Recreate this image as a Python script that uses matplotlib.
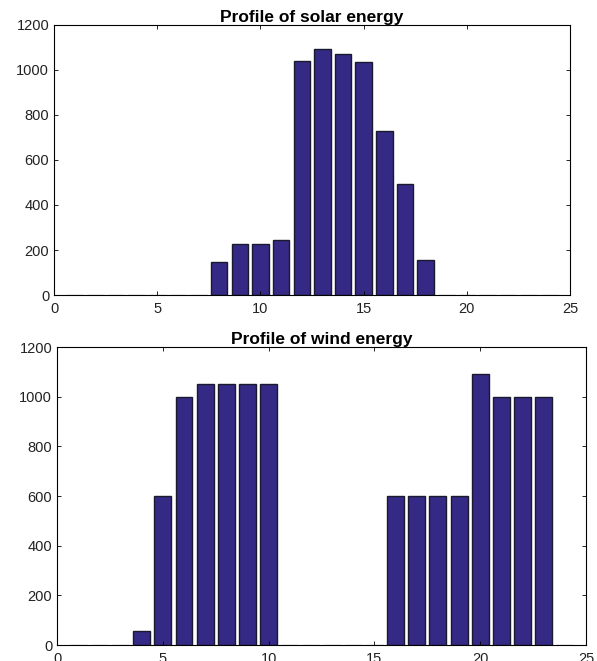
import matplotlib
matplotlib.use("Agg")
import matplotlib.pyplot as plt

hours = list(range(1, 25))
solar = [0, 0, 0, 0, 0, 0, 0, 146, 226, 226, 243, 1038, 1093, 1071, 1035, 729, 494, 157, 0, 0, 0, 0, 0, 0]
wind = [0, 0, 0, 58, 600, 1000, 1050, 1050, 1050, 1050, 0, 0, 0, 0, 0, 600, 600, 600, 600, 1093, 1000, 1000, 1000, 0]
titles = ["Profile of solar energy", "Profile of wind energy"]
xticks = [0, 5, 10, 15, 20, 25]
yticks = [0, 200, 400, 600, 800, 1000, 1200]

plt.rcParams['font.family'] = ['Liberation Sans', 'DejaVu Sans']

fig = plt.figure(figsize=(5.97, 6.61), dpi=100)
ax1 = fig.add_axes([0.0905, 0.5537, 0.8645, 0.4085])
ax2 = fig.add_axes([0.0955, 0.0242, 0.8861, 0.4508])

bar_color = '#342a85'
for ax, data, title in [(ax1, solar, titles[0]), (ax2, wind, titles[1])]:
    edges = ['#1a1a2e' if v > 0 else '#b0b0b0' for v in data]
    ax.bar(hours, data, width=0.8, color=bar_color, edgecolor=edges, linewidth=1.0)
    ax.set_xlim(0, 25)
    ax.set_ylim(0, 1200)
    ax.set_xticks(xticks)
    ax.set_yticks(yticks)
    ax.tick_params(direction='in', top=True, right=True, labelsize=10.5, length=3,
                   width=0.6, labelcolor='#222222')
    ax.tick_params(axis='x', pad=5)
    for s in ax.spines.values():
        s.set_linewidth(0.8)
    ax.set_title(title, fontsize=12.5, fontweight='bold', pad=2)

fig.savefig("out.png", dpi=100)
